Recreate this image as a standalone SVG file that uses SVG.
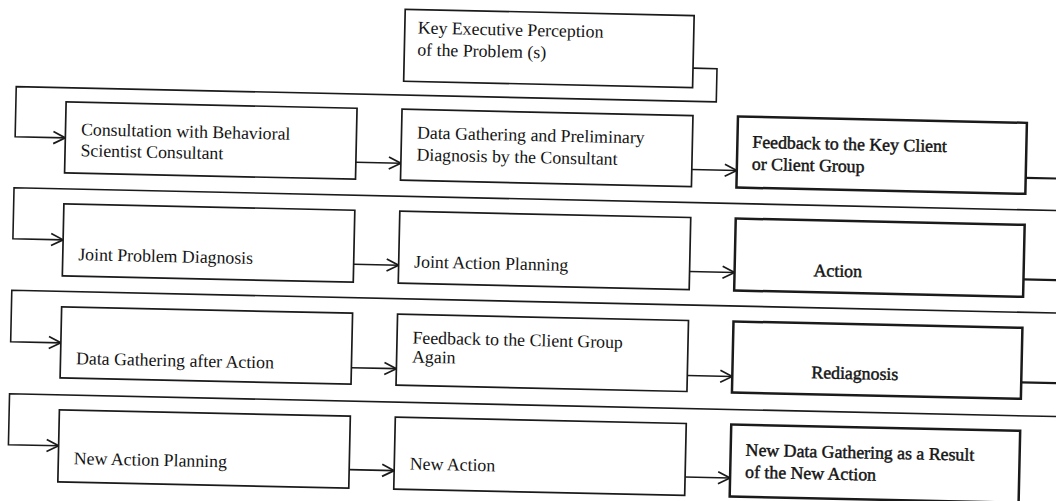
<svg xmlns="http://www.w3.org/2000/svg" width="1056" height="501" viewBox="0 0 1056 501">
  <style>
    .box { fill: #fff; stroke: #1a1a1a; stroke-width: 1.7; }
    .box.heavy { stroke-width: 2.5; }
    .lbl { font-family: "Liberation Serif", "Times New Roman", serif; font-size: 17.8px; fill: #141414; }
    .lbl.heavy { stroke: #141414; stroke-width: 0.45; }
    .wire { fill: none; stroke: #1a1a1a; stroke-width: 1.6; }
    .wire.heavy { stroke-width: 2.2; }
  </style>
  <defs>
    <marker id="arrow" markerUnits="userSpaceOnUse" markerWidth="16" markerHeight="16" viewBox="-14 -8 16 16" refX="0" refY="0" orient="auto">
      <path d="M-12,-6 L0,0 L-12,6" fill="none" stroke="#1a1a1a" stroke-width="1.7"/>
    </marker>
  </defs>
  <rect width="1056" height="501" fill="#fff"/>
  <!-- whole chart sits slightly tilted on the page -->
  <g transform="rotate(1.25 528 250)">
    <g id="connectors">
      <path class="wire" d="M689,64.6 H713 V97.8 H12.8 V148 H63" marker-end="url(#arrow)"/>
      <path class="wire" d="M354,166 H399" marker-end="url(#arrow)"/>
      <path class="wire" d="M690,166 H735" marker-end="url(#arrow)"/>
      <path class="wire heavy" d="M1024,167 H1090"/>
      <path class="wire" d="M1090,199 H12.8 V250 H63" marker-end="url(#arrow)"/>
      <path class="wire" d="M354,268 H399" marker-end="url(#arrow)"/>
      <path class="wire" d="M690,268 H735" marker-end="url(#arrow)"/>
      <path class="wire heavy" d="M1024,268.5 H1090"/>
      <path class="wire" d="M1090,301.5 H12.8 V353 H63" marker-end="url(#arrow)"/>
      <path class="wire" d="M354,371.5 H399" marker-end="url(#arrow)"/>
      <path class="wire" d="M690,372 H735" marker-end="url(#arrow)"/>
      <path class="wire heavy" d="M1024,371.5 H1090"/>
      <path class="wire" d="M1090,405 H12.8 V456 H63" marker-end="url(#arrow)"/>
      <path class="wire" d="M354,473.5 H399" marker-end="url(#arrow)"/>
      <path class="wire" d="M690,473.5 H735" marker-end="url(#arrow)"/>
    </g>

    <g id="key-executive-perception">
      <rect class="box" x="400" y="12" width="289" height="72"/>
      <text class="lbl" x="413" y="36">Key Executive Perception</text>
      <text class="lbl" x="413" y="58">of the Problem (s)</text>
    </g>

    <g id="consultation">
      <rect class="box" x="63" y="112" width="291" height="71"/>
      <text class="lbl" x="78.5" y="145">Consultation with Behavioral</text>
      <text class="lbl" x="78.5" y="166">Scientist Consultant</text>
    </g>
    <g id="preliminary-diagnosis">
      <rect class="box" x="399" y="112" width="291" height="71"/>
      <text class="lbl" x="414.5" y="141">Data Gathering and Preliminary</text>
      <text class="lbl" x="414.5" y="163">Diagnosis by the Consultant</text>
    </g>
    <g id="feedback-key-client">
      <rect class="box heavy" x="735" y="112" width="289" height="71"/>
      <text class="lbl heavy" x="750" y="143">Feedback to the Key Client</text>
      <text class="lbl heavy" x="750" y="165">or Client Group</text>
    </g>

    <g id="joint-problem-diagnosis">
      <rect class="box" x="63" y="214" width="291" height="72"/>
      <text class="lbl" x="78.5" y="270">Joint Problem Diagnosis</text>
    </g>
    <g id="joint-action-planning">
      <rect class="box" x="399" y="214" width="291" height="72"/>
      <text class="lbl" x="414.5" y="270">Joint Action Planning</text>
    </g>
    <g id="action">
      <rect class="box heavy" x="735" y="214" width="289" height="72"/>
      <text class="lbl heavy" x="814" y="270">Action</text>
    </g>

    <g id="data-after-action">
      <rect class="box" x="63" y="317" width="291" height="71"/>
      <text class="lbl" x="78.5" y="374">Data Gathering after Action</text>
    </g>
    <g id="feedback-again">
      <rect class="box" x="399" y="317" width="291" height="71"/>
      <text class="lbl" x="414.5" y="346">Feedback to the Client Group</text>
      <text class="lbl" x="414.5" y="365">Again</text>
    </g>
    <g id="rediagnosis">
      <rect class="box heavy" x="735" y="317" width="289" height="71"/>
      <text class="lbl heavy" x="814" y="372">Rediagnosis</text>
    </g>

    <g id="new-action-planning">
      <rect class="box" x="63" y="420" width="291" height="72"/>
      <text class="lbl" x="78.5" y="474">New Action Planning</text>
    </g>
    <g id="new-action">
      <rect class="box" x="399" y="420" width="291" height="72"/>
      <text class="lbl" x="414.5" y="472">New Action</text>
    </g>
    <g id="new-data-gathering">
      <rect class="box heavy" x="735" y="420" width="289" height="72"/>
      <text class="lbl heavy" x="750" y="451">New Data Gathering as a Result</text>
      <text class="lbl heavy" x="750" y="473">of the New Action</text>
    </g>
  </g>
</svg>
